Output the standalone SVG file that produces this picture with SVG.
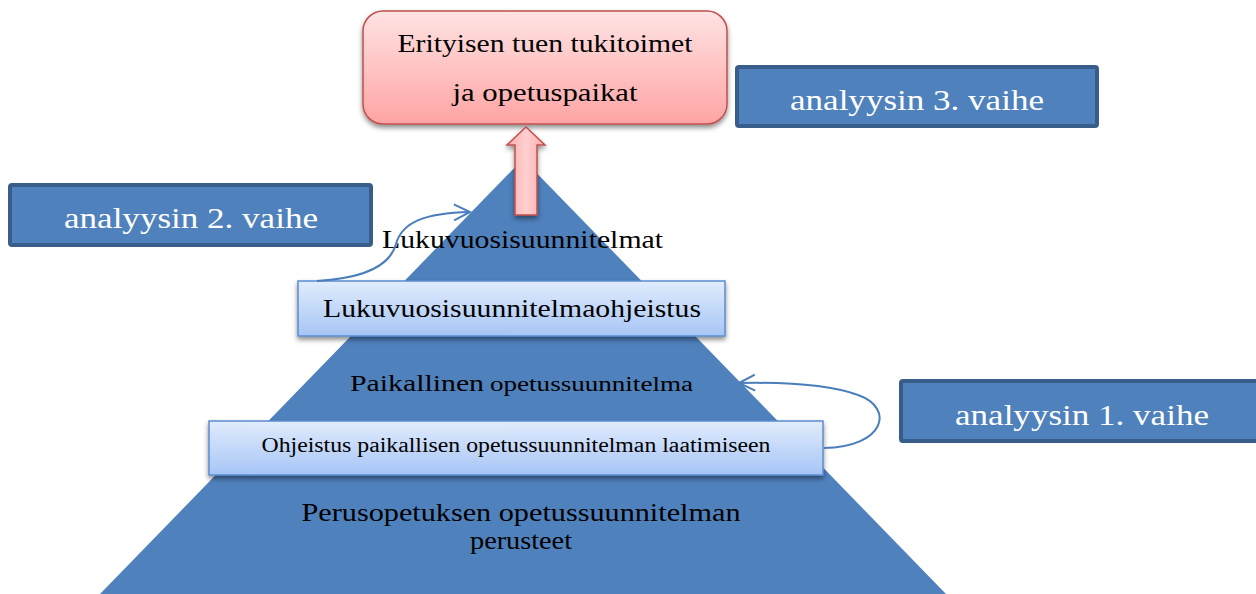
<svg xmlns="http://www.w3.org/2000/svg" width="1256" height="594" viewBox="0 0 1256 594">
  <defs>
    <linearGradient id="pink" x1="0" y1="0" x2="0" y2="1">
      <stop offset="0" stop-color="#ffe3e3"/>
      <stop offset="1" stop-color="#ffa4a4"/>
    </linearGradient>
    <linearGradient id="pinkArrow" x1="0" y1="0" x2="1" y2="0">
      <stop offset="0" stop-color="#ffaaaa"/>
      <stop offset="0.5" stop-color="#ffd0d0"/>
      <stop offset="1" stop-color="#ffaaaa"/>
    </linearGradient>
    <linearGradient id="bar" x1="0" y1="0" x2="0" y2="1">
      <stop offset="0" stop-color="#e1ecfd"/>
      <stop offset="1" stop-color="#a6c5f5"/>
    </linearGradient>
    <filter id="shadow" x="-10%" y="-20%" width="120%" height="160%">
      <feDropShadow dx="0" dy="3" stdDeviation="2.5" flood-color="#000" flood-opacity="0.45"/>
    </filter>
    <marker id="openArrow" markerWidth="20" markerHeight="20" refX="17" refY="9" orient="auto" markerUnits="userSpaceOnUse">
      <path d="M1,1 L17,9 L1,17" fill="none" stroke="#4a7ebb" stroke-width="2"/>
    </marker>
    <style>
      .serif { font-family: "Liberation Serif", "Times New Roman", serif; fill: #000; }
      .lbl { font-family: "Liberation Serif", "Times New Roman", serif; fill: #ffffff; font-size: 29px; }
      .lblbox { fill: #4f81bd; stroke: #385d8a; stroke-width: 4; }
      .barbox { fill: url(#bar); stroke: #5b8cd0; stroke-width: 1.5; filter: url(#shadow); }
      .conn { fill: none; stroke: #4a7ebb; stroke-width: 2; }
    </style>
  </defs>

  <g id="pyramid">
    <polygon points="523,159 100,594 946,594" fill="#4f81bd"/>
  </g>

  <g id="level-perusteet">
    <text class="serif" x="521" y="521" font-size="25" text-anchor="middle" textLength="439" lengthAdjust="spacingAndGlyphs">Perusopetuksen opetussuunnitelman</text>
    <text class="serif" x="521" y="549" font-size="25" text-anchor="middle" textLength="102" lengthAdjust="spacingAndGlyphs">perusteet</text>
  </g>

  <g id="level-paikallinen">
    <text class="serif" x="350" y="391" font-size="24" textLength="134" lengthAdjust="spacingAndGlyphs">Paikallinen</text>
    <text class="serif" x="490" y="391" font-size="20" textLength="203" lengthAdjust="spacingAndGlyphs">opetussuunnitelma</text>
  </g>

  <g id="level-lukuvuosisuunnitelmat">
    <text class="serif" x="382" y="248" font-size="26" textLength="281" lengthAdjust="spacingAndGlyphs">Lukuvuosisuunnitelmat</text>
  </g>

  <g id="bar-ohjeistus">
    <rect class="barbox" x="209" y="421" width="614" height="54"/>
    <text class="serif" x="516" y="452" font-size="20" text-anchor="middle" textLength="509" lengthAdjust="spacingAndGlyphs">Ohjeistus paikallisen opetussuunnitelman laatimiseen</text>
  </g>

  <g id="bar-lukuvuosi">
    <rect class="barbox" x="298" y="281" width="427" height="55"/>
    <text class="serif" x="512" y="317" font-size="26" text-anchor="middle" textLength="378" lengthAdjust="spacingAndGlyphs">Lukuvuosisuunnitelmaohjeistus</text>
  </g>

  <g id="top-box">
    <rect x="363" y="11" width="364" height="113" rx="20" ry="20" fill="url(#pink)" stroke="#c0504d" stroke-width="1.5" filter="url(#shadow)"/>
    <text class="serif" x="545" y="52" font-size="26" text-anchor="middle" textLength="295" lengthAdjust="spacingAndGlyphs">Erityisen tuen tukitoimet</text>
    <text class="serif" x="545" y="101" font-size="26" text-anchor="middle" textLength="185" lengthAdjust="spacingAndGlyphs">ja opetuspaikat</text>
  </g>

  <g id="label-3">
    <rect class="lblbox" x="737" y="67" width="360" height="59" rx="2"/>
    <text class="lbl" x="917" y="110" text-anchor="middle" textLength="254" lengthAdjust="spacingAndGlyphs">analyysin 3. vaihe</text>
  </g>

  <g id="label-2">
    <rect class="lblbox" x="10" y="185" width="361" height="60" rx="2"/>
    <text class="lbl" x="191" y="228" text-anchor="middle" textLength="254" lengthAdjust="spacingAndGlyphs">analyysin 2. vaihe</text>
  </g>

  <g id="label-1">
    <rect class="lblbox" x="901" y="381" width="360" height="60" rx="2"/>
    <text class="lbl" x="1082" y="425" text-anchor="middle" textLength="254" lengthAdjust="spacingAndGlyphs">analyysin 1. vaihe</text>
  </g>

  <g id="connectors">
    <polygon points="526,127 545,145 537,145 537,215 515,215 515,145 507,145" fill="url(#pinkArrow)" stroke="#c0504d" stroke-width="1.5" filter="url(#shadow)"/>
    <path class="conn" d="M317,281 C365,278 390,266 396,244 C402,222 425,213 470,212" marker-end="url(#openArrow)"/>
    <path class="conn" d="M824,448 C885,447 895,408 858,395 C830,385 790,382 739,383" marker-end="url(#openArrow)"/>
  </g>
</svg>
